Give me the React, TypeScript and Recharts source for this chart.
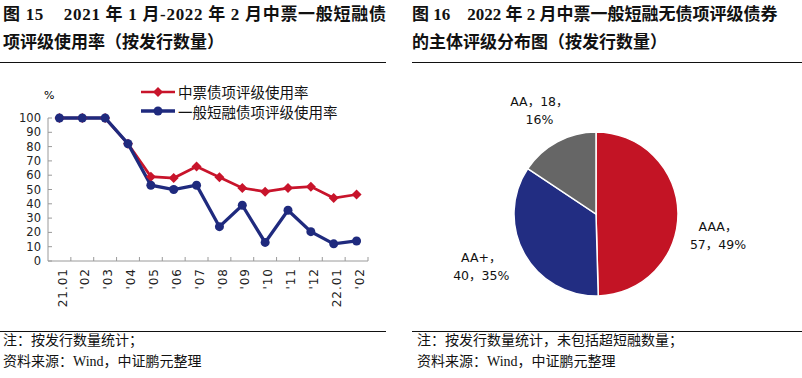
import React from "react";
import { Cell, Line, LineChart, Pie, PieChart, XAxis, YAxis } from "recharts";

// 图15：月度债项评级使用率（%）
const months = ["21.01", "'02", "'03", "'04", "'05", "'06", "'07", "'08", "'09", "'10", "'11", "'12", "22.01", "'02"];
const mtnRate = [100, 100, 100, 82, 59, 58, 66, 58.5, 51, 48.5, 51, 52, 44, 46.5];
const cpRate = [100, 100, 100, 82, 53, 50, 53, 24, 39, 13, 35.5, 20.5, 12, 14];
const yTicks = [0, 10, 20, 30, 40, 50, 60, 70, 80, 90, 100];
const seriesNames = ["中票债项评级使用率", "一般短融债项评级使用率"];

// 图16：主体评级分布
const ratingNames = ["AAA", "AA+", "AA"];
const ratingCounts = [57, 40, 18];
const ratingShares = [49, 35, 16];

const RED = "#C8142B";
const BLUE = "#1F2A7E";
const AXIS = "#9A9A9A";
const PIE_COLORS = ["#C31425", "#222D82", "#666666"];
const SANS = "'Noto Sans CJK SC', 'DejaVu Sans', sans-serif";
const TICK_FONT = "'DejaVu Sans', 'Noto Sans CJK SC', sans-serif";
const TITLE_FONT = "'Liberation Serif', 'Noto Sans CJK SC', serif";

// plot box of the line chart (px in its own svg)
const PLOT_L = 48, PLOT_R = 368, PLOT_T = 118, PLOT_B = 261;
const STEP = (PLOT_R - PLOT_L) / months.length;

const lineData = months.map((m, i) => ({ m, mtn: mtnRate[i], cp: cpRate[i] }));
const pieData = ratingNames.map((name, i) => ({ name, value: ratingCounts[i], share: ratingShares[i] }));

function XTick({ x, y, payload }: any) {
  const tx = x + 3;
  return (
    <g>
      <line x1={x + STEP / 2} x2={x + STEP / 2} y1={PLOT_B} y2={PLOT_B - 4} stroke={AXIS} />
      <text x={tx} y={y} transform={`rotate(-90 ${tx} ${y})`} textAnchor="end" dy="0.35em"
        fontSize={12} letterSpacing={1} fontFamily={TICK_FONT} fill="#222">
        {payload.value}
      </text>
    </g>
  );
}

function YTick({ y, payload }: any) {
  return (
    <g>
      <line x1={PLOT_L} x2={PLOT_L + 4} y1={y} y2={y} stroke={AXIS} />
      <text x={PLOT_L - 7} y={y} dy="0.35em" textAnchor="end" fontSize={11.5} fontFamily={TICK_FONT} fill="#222">
        {payload.value}
      </text>
    </g>
  );
}

function Diamond({ cx, cy, size = 5, fill }: any) {
  if (cx == null || cy == null) return null;
  return <polygon points={`${cx},${cy - size} ${cx + size},${cy} ${cx},${cy + size} ${cx - size},${cy}`} fill={fill} />;
}

function LegendRow({ label, color, circle }: { label: string; color: string; circle: boolean }) {
  return (
    <div style={{ display: "flex", alignItems: "center", height: 19.5 }}>
      <svg width={36} height={12} style={{ marginRight: 2 }}>
        <line x1={1} x2={35} y1={6} y2={6} stroke={color} strokeWidth={circle ? 3.3 : 2.7} />
        {circle ? <circle cx={18} cy={6} r={4.5} fill={color} /> : <Diamond cx={18} cy={6} size={5} fill={color} />}
      </svg>
      <span>{label}</span>
    </div>
  );
}

const labelDy = [24, -6, 5];
const labelDx = [0, -8, 1];

function pieLabel({ cx, cy, midAngle, outerRadius, index }: any) {
  const rad = Math.PI / 180;
  const r = outerRadius + 40;
  const x = cx + r * Math.cos(-midAngle * rad) + labelDx[index];
  const y = cy + r * Math.sin(-midAngle * rad) + labelDy[index];
  const d = pieData[index];
  const lines = index === 2
    ? [`${d.name}，${d.value}，`, `${d.share}%`]
    : [`${d.name}，`, `${d.value}，${d.share}%`];
  return (
    <text x={x} y={y} textAnchor="middle" fontSize={12.5} fontFamily={TICK_FONT} fill="#111">
      {lines.map((l, i) => (
        <tspan key={i} x={x} dy={i === 0 ? -5 : 18}>{l}</tspan>
      ))}
    </text>
  );
}

const titleStyle: React.CSSProperties = {
  position: "absolute", fontFamily: TITLE_FONT, fontWeight: 700, fontSize: 17,
  lineHeight: "28px", whiteSpace: "pre", color: "#111",
};
const noteStyle: React.CSSProperties = {
  position: "absolute", fontFamily: TITLE_FONT, fontSize: 14, lineHeight: "21px",
  whiteSpace: "pre", color: "#111",
};
const rule = (left: number, top: number, width: number): React.CSSProperties => ({
  position: "absolute", left, top, width, height: 0, borderTop: "1.5px solid #111",
});

export default function App() {
  return (
    <div style={{ position: "absolute", left: 0, top: 0, width: 802, height: 378, background: "#fff", overflow: "hidden" }}>
      <div style={{ ...titleStyle, left: 3, top: 1 }}>
        <div style={{ letterSpacing: 0.7 }}>{"图 15    2021 年 1 月-2022 年 2 月中票一般短融债"}</div>
        <div>{"项评级使用率（按发行数量）"}</div>
      </div>
      <div style={{ ...titleStyle, left: 412, top: 1 }}>
        {"图 16    2022 年 2 月中票一般短融无债项评级债券\n的主体评级分布图（按发行数量）"}
      </div>
      <div style={rule(0, 62, 386)} />
      <div style={rule(412, 62, 390)} />

      <div style={{ position: "absolute", left: 44, top: 89, fontFamily: TICK_FONT, fontSize: 11 }}>%</div>

      <div style={{ position: "absolute", left: 0, top: 0 }}>
        <LineChart width={400} height={320} data={lineData}
          margin={{ top: PLOT_T, right: 400 - PLOT_R, left: 0, bottom: 9 }}>
          <XAxis dataKey="m" interval={0} tickSize={0} tickMargin={7} height={50}
            padding={{ left: STEP / 2, right: STEP / 2 }}
            axisLine={{ stroke: AXIS }} tickLine={false} tick={<XTick />} />
          <YAxis domain={[0, 100]} ticks={yTicks} interval={0} width={PLOT_L} tickSize={0} tickMargin={0}
            axisLine={{ stroke: AXIS }} tickLine={false} tick={<YTick />} />
          <Line dataKey="mtn" name={seriesNames[0]} stroke={RED} strokeWidth={2.7}
            dot={(p: any) => <Diamond key={p.index} cx={p.cx} cy={p.cy} size={5} fill={RED} />}
            isAnimationActive={false} />
          <Line dataKey="cp" name={seriesNames[1]} stroke={BLUE} strokeWidth={3.3}
            dot={{ r: 4.5, fill: BLUE, stroke: BLUE, strokeWidth: 0 }} isAnimationActive={false} />
        </LineChart>
      </div>

      <div style={{ position: "absolute", left: 140, top: 82, fontFamily: SANS, fontSize: 14.5, color: "#111" }}>
        <LegendRow label={seriesNames[0]} color={RED} circle={false} />
        <LegendRow label={seriesNames[1]} color={BLUE} circle={true} />
      </div>

      <div style={{ position: "absolute", left: 400, top: 0 }}>
        <PieChart width={400} height={320}>
          <Pie data={pieData} dataKey="value" nameKey="name" cx={191} cy={209} outerRadius={82}
            startAngle={90} endAngle={-270} stroke="#fff" strokeWidth={1.5}
            label={pieLabel} labelLine={false} isAnimationActive={false}>
            {pieData.map((d, i) => <Cell key={d.name} fill={PIE_COLORS[i]} />)}
          </Pie>
        </PieChart>
      </div>

      <div style={rule(0, 331, 386)} />
      <div style={rule(412, 331, 390)} />
      <div style={{ ...noteStyle, left: 3, top: 330 }}>{"注：按发行数量统计；\n资料来源：Wind，中证鹏元整理"}</div>
      <div style={{ ...noteStyle, left: 417, top: 330 }}>{"注：按发行数量统计，未包括超短融数量；\n资料来源：Wind，中证鹏元整理"}</div>
    </div>
  );
}
